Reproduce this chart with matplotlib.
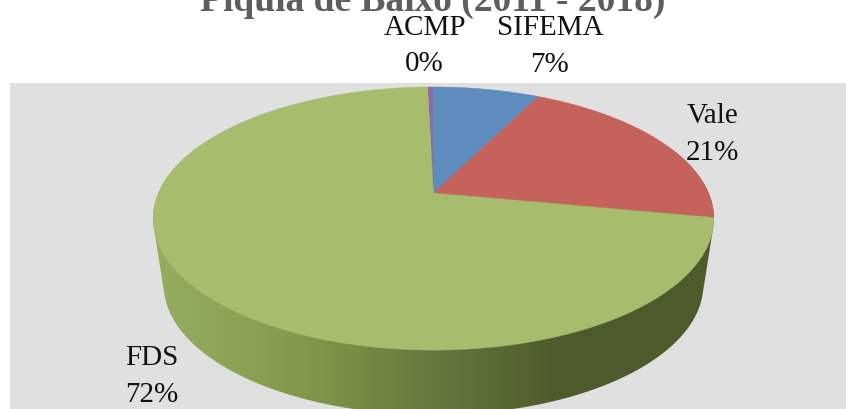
import numpy as np
import matplotlib
matplotlib.use("Agg")
import matplotlib.pyplot as plt
from matplotlib.patches import Polygon, Rectangle
from matplotlib.colors import LinearSegmentedColormap

categories = ["ACMP", "SIFEMA", "Vale", "FDS"]
values = [0.4, 7.4, 20.6, 71.6]
labels = ["0%", "7%", "21%", "72%"]
colors = ["#8A6DA8", "#5F8CBE", "#C6625C", "#A7BC6C"]
title = "Piquiá de Baixo (2011 - 2018)"

W, H = 846, 409
fig = plt.figure(figsize=(W / 100, H / 100), dpi=100, facecolor="white")
ax = fig.add_axes([0, 0, 1, 1])
ax.set_xlim(0, W)
ax.set_ylim(H, 0)
ax.axis("off")

ax.add_patch(Rectangle((10, 83), W - 10, H - 83, facecolor="#E0E0E0", edgecolor="none", zorder=0))

# Perspective projection of a unit circle
CX, AY, k, A, B = 433.5, 193, 0.194, 275, 126.6
START = -1.5


def project(theta_deg, ax_scale=1.0, by_scale=1.0, dy=0.0):
    t = np.radians(theta_deg)
    x, y = np.sin(t), np.cos(t)
    d = 1 + k * y
    return CX + A * ax_scale * x / d, AY + dy - B * by_scale * y / d


def hull(points):
    pts = sorted(set(map(tuple, np.round(points, 3))))

    def half(seq):
        out = []
        for p in seq:
            while len(out) >= 2 and ((out[-1][0] - out[-2][0]) * (p[1] - out[-2][1])
                                     - (out[-1][1] - out[-2][1]) * (p[0] - out[-2][0])) <= 0:
                out.pop()
            out.append(p)
        return out[:-1]

    return np.array(half(pts) + half(pts[::-1]))


# Side wall with horizontal shading: outline of the top and bottom rims
theta = np.linspace(0, 360, 721)
tx, ty = project(theta)
bx, by = project(theta, 270 / 280.5, 130 / 131.5, 66.5)
wall_pts = hull(np.column_stack([np.r_[tx, bx], np.r_[ty, by]]))
wall = Polygon(wall_pts, closed=True, facecolor="none", edgecolor="none", zorder=1)
ax.add_patch(wall)
stops = [(150, "#96AE60"), (240, "#8CA355"), (330, "#7E9149"), (423, "#6A7A3D"),
         (480, "#5F6D37"), (560, "#4F5A2C"), (720, "#4F5A2C")]
cmap = LinearSegmentedColormap.from_list(
    "wall", [((x - 150) / 570, c) for x, c in stops])
img = ax.imshow(np.linspace(0, 1, 570)[None, :], extent=(150, 720, H, 150), cmap=cmap,
                aspect="auto", zorder=1, interpolation="bilinear")
img.set_clip_path(wall)
ax.set_xlim(0, W)
ax.set_ylim(H, 0)

# Top face
total = sum(values)
angle = START
for val, col in zip(values, colors):
    sweep = val / total * 360
    th = np.linspace(angle, angle + sweep, max(int(sweep * 2), 2))
    px, py = project(th)
    pts = np.column_stack([np.r_[CX, px], np.r_[AY, py]])
    ax.add_patch(Polygon(pts, closed=True, facecolor=col, edgecolor=col, linewidth=0.3, zorder=2))
    angle += sweep

# Labels
font = dict(family="Liberation Serif", fontsize=21, color="#111111",
            ha="center", va="center", zorder=3)
name_pos = [(425, 28), (550, 28), (713, 116), (152, 358)]
pct_pos = [(424, 64), (550, 65), (712, 153), (152, 395)]
for name, pct, p1, p2 in zip(categories, labels, name_pos, pct_pos):
    ax.text(*p1, name, **font)
    ax.text(*p2, pct, **font)

ax.text(433, 1, title, family="Liberation Serif", fontsize=27, fontweight="bold",
        color="#5E5E5E", ha="center", va="center", clip_on=False, zorder=3)

fig.savefig("out.png", dpi=100, facecolor="white")
